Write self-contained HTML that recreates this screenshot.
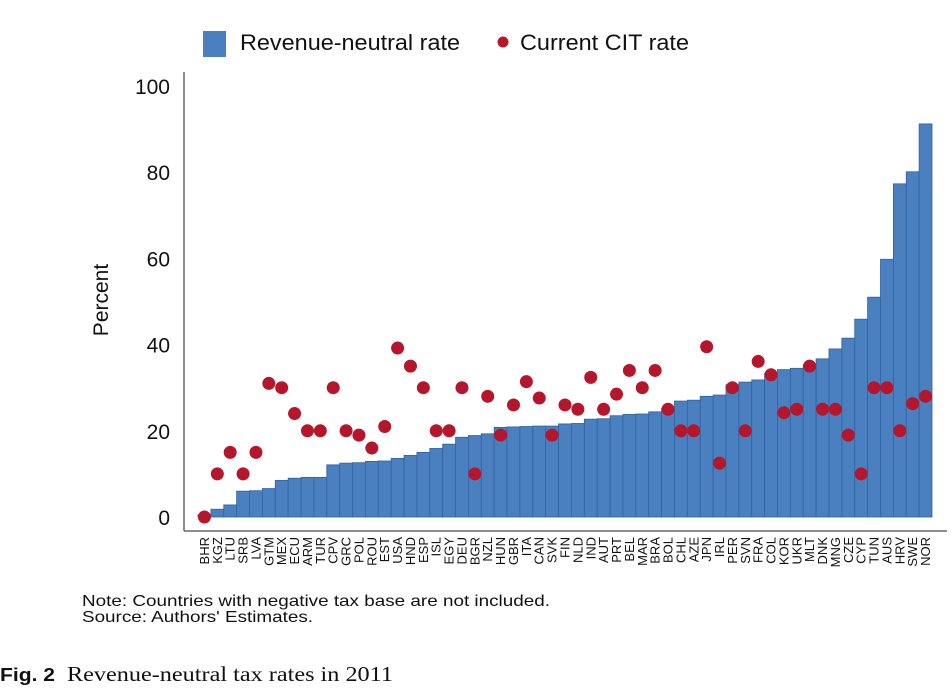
<!DOCTYPE html>
<html><head><meta charset="utf-8"><style>
body{margin:0;background:#fff;width:952px;height:690px;overflow:hidden;font-family:"Liberation Sans",sans-serif}
</style></head><body>
<svg width="952" height="690" xmlns="http://www.w3.org/2000/svg">
<g id="legend">
<rect x="203" y="31" width="23" height="26" fill="#4a80c0"/>
<text x="240" y="50" font-size="22" textLength="220" lengthAdjust="spacingAndGlyphs" fill="#111">Revenue-neutral rate</text>
<circle cx="503" cy="42" r="5.5" fill="#b5162b"/>
<text x="520" y="50" font-size="22" textLength="169" lengthAdjust="spacingAndGlyphs" fill="#111">Current CIT rate</text>
</g>
<line x1="184" y1="72" x2="184" y2="531" stroke="#666" stroke-width="1.5"/>
<line x1="184" y1="531" x2="947" y2="531" stroke="#666" stroke-width="1.5"/>
<g id="yticks"></g>
<text transform="translate(108,300) rotate(-90)" text-anchor="middle" font-size="21" fill="#111">Percent</text>
<g id="bars"></g><g id="dots"></g><g id="xlabels"></g>
<text x="82" y="606" font-size="16" textLength="468" lengthAdjust="spacingAndGlyphs" fill="#111">Note: Countries with negative tax base are not included.</text>
<text x="82" y="622" font-size="16" textLength="231" lengthAdjust="spacingAndGlyphs" fill="#111">Source: Authors' Estimates.</text>
<text x="0" y="681" font-size="18" font-weight="bold" textLength="55" lengthAdjust="spacingAndGlyphs" fill="#111">Fig. 2</text>
<text x="67" y="681" font-size="21" font-family="Liberation Serif" textLength="326" lengthAdjust="spacingAndGlyphs" fill="#111">Revenue-neutral tax rates in 2011</text>
</svg>
<script>
const countries=["BHR","KGZ","LTU","SRB","LVA","GTM","MEX","ECU","ARM","TUR","CPV","GRC","POL","ROU","EST","USA","HND","ESP","ISL","EGY","DEU","BGR","NZL","HUN","GBR","ITA","CAN","SVK","FIN","NLD","IND","AUT","PRT","BEL","MAR","BRA","BOL","CHL","AZE","JPN","IRL","PER","SVN","FRA","COL","KOR","UKR","MLT","DNK","MNG","CZE","CYP","TUN","AUS","HRV","SWE","NOR"];
const revenueNeutral=[0.5,1.8,2.8,6,6.1,6.6,8.5,9,9.2,9.2,12.1,12.5,12.6,12.9,13,13.6,14.3,15,15.9,16.9,18.5,18.9,19.3,20.8,20.9,21,21.1,21.1,21.6,21.7,22.7,22.8,23.5,23.8,23.9,24.4,25.2,26.9,27.1,28,28.3,30.7,31.3,31.8,33.3,34.2,34.5,35.3,36.7,39,41.5,45.9,51,59.8,77.3,80.1,91.2];
const citRate=[0,10,15,10,15,31,30,24,20,20,30,20,19,16,21,39.2,35,30,20,20,30,10,28,19,26,31.4,27.6,19,26,25,32.4,25,28.5,34,30,34,25,20,20,39.5,12.5,30,20,36.1,33,24.2,25,35,25,25,19,10,30,30,20,26.3,28];
const yTicks=[0,20,40,60,80,100];
const NS="http://www.w3.org/2000/svg";
const y0=517,yScale=4.31,xStart=198,bw=(932-198)/57;
const y=v=>y0-v*yScale, x=i=>xStart+i*bw;
function mk(t,a,p){const e=document.createElementNS(NS,t);for(const k in a)e.setAttribute(k,a[k]);document.getElementById(p).appendChild(e);return e;}
yTicks.forEach(v=>{const t=mk("text",{x:170,y:y(v)+8,"text-anchor":"end","font-size":21,fill:"#111"},"yticks");t.textContent=v;

});
revenueNeutral.forEach((v,i)=>{const r=mk("rect",{x:x(i),y:y(v),width:bw,height:v*yScale,fill:"#4a80c0",stroke:"#2f63a3","stroke-width":0.8},"bars");

});
citRate.forEach((v,i)=>{const c=mk("circle",{cx:x(i)+bw/2,cy:y(v),r:6.5,fill:"#b5162b"},"dots");

});
countries.forEach((c,i)=>{const cx=x(i)+bw/2+4.5;const t=mk("text",{transform:`translate(${cx},537) rotate(-90)`,"text-anchor":"end","font-size":13,fill:"#111"},"xlabels");t.textContent=c;

});
</script>
</body></html>
